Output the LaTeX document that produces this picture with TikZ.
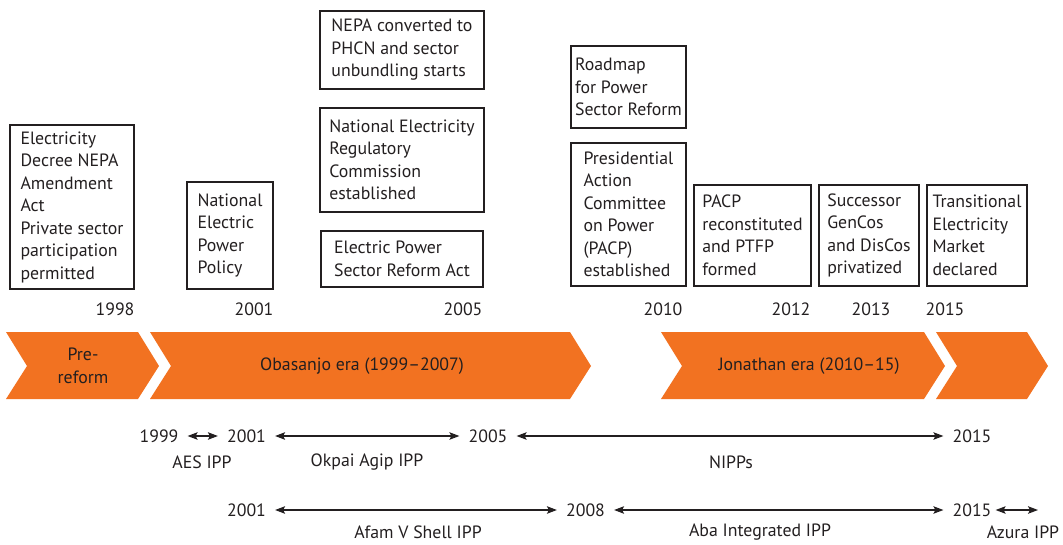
\documentclass[tikz,border=0pt]{standalone}
\usepackage{fontspec}
\setmainfont{PT Sans}
\usepackage{xcolor}
\usepackage{tikz}
\usetikzlibrary{arrows.meta}

\definecolor{eraorange}{RGB}{242,114,33}
\definecolor{inkgray}{RGB}{35,31,32}

\begin{document}
\begin{tikzpicture}[x=1pt, y=-1pt,
  every node/.style = {text=inkgray, font=\fontsize{17.8}{22.5}\selectfont},
  event/.style   = {rectangle, draw=inkgray, line width=1.3pt,
                    align=left, inner sep=0pt},
  year/.style    = {inner xsep=9pt, inner ysep=1pt},
  era/.style     = {fill=eraorange},
  ippspan/.style = {{Stealth[length=10pt,width=7.5pt,inset=2pt]}-{Stealth[length=10pt,width=7.5pt,inset=2pt]},
                    line width=1.2pt, draw=inkgray}
]
\useasboundingbox (0,0) rectangle (1063,544);

% ,  Events (top row of boxes) ,
\node[event, minimum width=124pt, minimum height=164pt] (decree)  at (72,207)
      {Electricity\\Decree NEPA\\Amendment\\Act\\Private sector\\participation\\permitted};
\node[event, minimum width=86pt,  minimum height=107pt] (policy)  at (230,235.5)
      {National\\Electric\\Power\\Policy};
\node[event, minimum width=164pt, minimum height=78pt]  (phcn)    at (402,50)
      {NEPA converted to\\PHCN and sector\\unbundling starts};
\node[event, minimum width=164pt, minimum height=104pt] (nerc)    at (402,160)
      {National Electricity\\Regulatory\\Commission\\established};
\node[event, minimum width=162pt, minimum height=56pt]  (epsra)   at (402,259)
      {Electric Power\\Sector Reform Act};
\node[event, minimum width=115pt, minimum height=82pt]  (roadmap) at (628.5,87)
      {Roadmap\\for Power\\Sector Reform};
\node[event, minimum width=115pt, minimum height=143pt] (pacp)    at (628.5,214.5)
      {Presidential\\Action\\Committee\\on Power\\(PACP)\\established};
\node[event, minimum width=117pt, minimum height=101pt] (ptfp)    at (752.5,235.5)
      {PACP\\reconstituted\\and PTFP\\formed};
\node[event, minimum width=100pt, minimum height=101pt] (privat)  at (869,235.5)
      {Successor\\GenCos\\and DisCos\\privatized};
\node[event, minimum width=100pt, minimum height=101pt] (market)  at (977,235.5)
      {Transitional\\Electricity\\Market\\declared};

% ,  Years of the events ,
\node (t1998) at (115,309) {1998};
\node (t2001) at (254,309) {2001};
\node (t2005) at (463,309) {2005};
\node (t2010) at (663,309) {2010};
\node (t2012) at (791,309) {2012};
\node (t2013) at (871,309) {2013};
\node (t2015) at (945,309) {2015};

% ,  Eras (chevrons) ,
\fill[era] (6,332)   -- (138,332) -- (159,366) -- (138,399) -- (6,399)   -- (27,366)  -- cycle;
\fill[era] (150,332) -- (570,332) -- (591,366) -- (570,399) -- (150,399) -- (171,366) -- cycle;
\fill[era] (661,332) -- (924,332) -- (945,366) -- (924,399) -- (661,399) -- (682,366) -- cycle;
\fill[era] (936,332) -- (1027,332) -- (1048,366) -- (1027,399) -- (936,399) -- (957,366) -- cycle;
\node[align=center] (prereform) at (83,366)  {Pre-\\reform};
\node (obasanjo) at (362,366) {Obasanjo era (1999–2007)};
\node (jonathan) at (809,366) {Jonathan era (2010–15)};

% ,  IPPs, first row ,
\node[year] (a1999) at (159,436)   {1999};
\node[year] (a2001) at (246.5,436) {2001};
\node[year] (a2005) at (488,436)   {2005};
\node[year] (a2015) at (972,436)   {2015};
\draw[ippspan] (a1999) -- (a2001);
\draw[ippspan] (a2001) -- (a2005);
\draw[ippspan] (a2005) -- (a2015);
\node (aes)   at (202,462) {AES IPP};
\node (okpai) at (367,462) {Okpai Agip IPP};
\node (nipps) at (731,462) {NIPPs};

% ,  IPPs, second row ,
\node[year] (b2001) at (246.5,510) {2001};
\node[year] (b2008) at (585.5,510) {2008};
\node[year] (b2015) at (972,510)   {2015};
\coordinate (azuraend) at (1038,510);
\draw[ippspan] (b2001) -- (b2008);
\draw[ippspan] (b2008) -- (b2015);
\draw[ippspan, shorten <=-5pt] (b2015) -- (azuraend);
\node (afam)  at (418,532)  {Afam V Shell IPP};
\node (aba)   at (760,532)  {Aba Integrated IPP};
\node (azura) at (1023,532) {Azura IPP};

\end{tikzpicture}
\end{document}
